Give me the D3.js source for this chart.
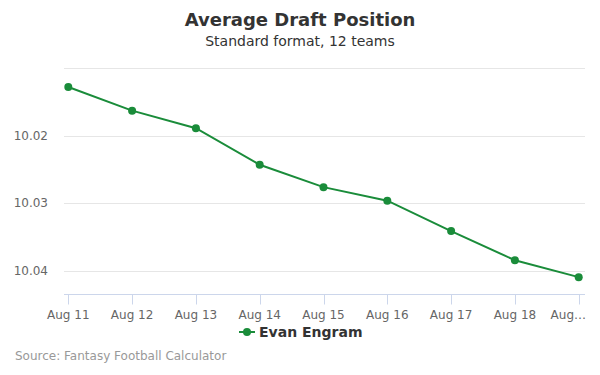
<!DOCTYPE html>
<html>
<head>
<meta charset="utf-8">
<script src="https://cdn.jsdelivr.net/npm/d3@7"></script>
<style>
    body { margin: 0; background: #fff; }
    text { font-family: "DejaVu Sans", sans-serif; }
</style>
</head>
<body>
<div id="chart"></div>
<script>

// data
const dates = ["Aug 11", "Aug 12", "Aug 13", "Aug 14", "Aug 15", "Aug 16", "Aug 17", "Aug 18", "Aug 19"];
const adp = [10.0128, 10.0163, 10.0189, 10.0243, 10.0276, 10.0296, 10.0341, 10.0384, 10.0409];
const yTicks = [10.01, 10.02, 10.03, 10.04];
const seriesName = "Evan Engram";

const width = 600, height = 375;
const margin = {top: 68, right: 15, bottom: 81, left: 64};
const green = "#1a8c3a";

const svg = d3.select("#chart").append("svg")
    .attr("width", width)
    .attr("height", height);

// titles
svg.append("text")
    .attr("x", width / 2).attr("y", 26)
    .attr("text-anchor", "middle")
    .attr("font-size", "18px").attr("font-weight", "bold")
    .attr("fill", "#333")
    .text("Average Draft Position");

svg.append("text")
    .attr("x", width / 2).attr("y", 46)
    .attr("text-anchor", "middle")
    .attr("font-size", "14px")
    .attr("fill", "#333")
    .text("Standard format, 12 teams");

// scales
const x = d3.scalePoint()
    .domain(dates)
    .range([margin.left + 4.3, width - margin.right - 6.3]);

// reversed axis: smaller ADP on top
const y = d3.scaleLinear()
    .domain([10.01, 10.04339])
    .range([margin.top, height - margin.bottom]);

// grid lines
svg.append("g")
    .selectAll("line")
    .data(yTicks)
    .join("line")
    .attr("x1", margin.left)
    .attr("x2", width - margin.right)
    .attr("y1", d => Math.round(y(d)) + 0.5)
    .attr("y2", d => Math.round(y(d)) + 0.5)
    .attr("stroke", "#e6e6e6");

// y labels (top one is hidden like the original)
svg.append("g")
    .selectAll("text")
    .data(yTicks.slice(1))
    .join("text")
    .attr("x", 48)
    .attr("y", d => y(d) + 4)
    .attr("text-anchor", "end")
    .attr("font-size", "12px")
    .attr("fill", "#666")
    .text(d => d3.format(".2f")(d));

// x axis
const axisY = Math.round(height - margin.bottom) + 0.5;
svg.append("line")
    .attr("x1", margin.left).attr("x2", width - margin.right)
    .attr("y1", axisY).attr("y2", axisY)
    .attr("stroke", "#ccd6eb");

svg.append("g")
    .selectAll("line")
    .data(dates)
    .join("line")
    .attr("x1", d => Math.round(x(d)) + 0.5)
    .attr("x2", d => Math.round(x(d)) + 0.5)
    .attr("y1", axisY)
    .attr("y2", axisY + 10)
    .attr("stroke", "#ccd6eb");

const xLabels = svg.append("g")
    .selectAll("text")
    .data(dates)
    .join("text")
    .attr("x", d => x(d))
    .attr("y", axisY + 24)
    .attr("text-anchor", "middle")
    .attr("font-size", "12px")
    .attr("fill", "#666")
    .text(d => d);

// ellipsis for labels that run past the edge
xLabels.each(function (d) {
    const el = d3.select(this);
    const w = this.getComputedTextLength();
    if (x(d) + w / 2 > width - 14) {
        el.attr("text-anchor", "end").attr("x", width - 14).text("Aug\u2026");
    }
});

// line
const line = d3.line()
    .x((d, i) => x(dates[i]))
    .y(d => y(d));

svg.append("path")
    .datum(adp)
    .attr("fill", "none")
    .attr("stroke", green)
    .attr("stroke-width", 2)
    .attr("d", line);

svg.append("g")
    .selectAll("circle")
    .data(adp)
    .join("circle")
    .attr("cx", (d, i) => x(dates[i]))
    .attr("cy", d => y(d))
    .attr("r", 4)
    .attr("fill", green);

// legend
const legend = svg.append("g").attr("transform", "translate(239, 332)");
legend.append("line")
    .attr("x1", 0).attr("x2", 16)
    .attr("stroke", green).attr("stroke-width", 2);
legend.append("circle")
    .attr("cx", 8).attr("r", 4)
    .attr("fill", green);
legend.append("text")
    .attr("x", 20).attr("y", 5)
    .attr("font-size", "14px").attr("font-weight", "bold")
    .attr("fill", "#333")
    .text(seriesName);

// source
svg.append("text")
    .attr("x", 15).attr("y", 360)
    .attr("font-size", "12px")
    .attr("fill", "#999")
    .text("Source: Fantasy Football Calculator");

</script>
</body>
</html>
